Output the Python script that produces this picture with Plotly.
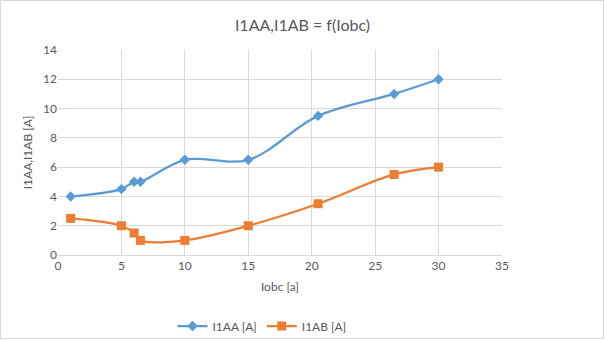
import plotly.graph_objects as go

x_vals = [1, 5, 6, 6.5, 10, 15, 20.5, 26.5, 30]
i1aa = [4, 4.5, 5, 5, 6.5, 6.5, 9.5, 11, 12]
i1ab = [2.5, 2, 1.5, 1, 1, 2, 3.5, 5.5, 6]
x_ticks = [0, 5, 10, 15, 20, 25, 30, 35]
y_ticks = [0, 2, 4, 6, 8, 10, 12, 14]

W, H = 605, 340
L, R, T, B = 58, 103, 50, 85
pw, ph = W - L - R, H - T - B

fig = go.Figure()
fig.add_trace(go.Scatter(x=x_vals, y=i1aa, name="I1AA [A]", mode="lines+markers",
                         line=dict(color="#5B9BD5", width=2.25, shape="spline", smoothing=1),
                         marker=dict(symbol="diamond", size=8, color="#5B9BD5")))
fig.add_trace(go.Scatter(x=x_vals, y=i1ab, name="I1AB [A]", mode="lines+markers",
                         line=dict(color="#ED7D31", width=2.25, shape="spline", smoothing=1),
                         marker=dict(symbol="square", size=9, color="#ED7D31")))

font = "Lato, 'Open Sans', sans-serif"
fig.update_layout(
    width=W, height=H,
    margin=dict(l=L, r=R, t=T, b=B, autoexpand=False),
    paper_bgcolor="white", plot_bgcolor="white",
    font=dict(family=font, color="#595959", size=12),
    title=dict(text="I1AA,I1AB = f(Iobc)", x=0.5, xanchor="center", y=1 - 25 / H, yanchor="middle",
               font=dict(size=16, color="#595959", family=font)),
    xaxis=dict(range=[0, 35], tickvals=x_ticks, showgrid=True, gridcolor="#D9D9D9", gridwidth=1,
               zeroline=False, showline=True, linecolor="#D9D9D9", ticks="", automargin=False,
               title=dict(text="Iobc [a]", font=dict(size=12), standoff=10),
               tickfont=dict(size=12)),
    yaxis=dict(range=[0, 14], tickvals=y_ticks, showgrid=True, gridcolor="#D9D9D9", gridwidth=1,
               zeroline=False, showline=False, ticks="", automargin=False,
               title=dict(text="I1AA,I1AB [A]", font=dict(size=12), standoff=7),
               tickfont=dict(size=12)),
    legend=dict(orientation="h", x=(262 - L) / pw, xanchor="center", yref="container",
                y=1 - 326 / H, yanchor="middle", itemwidth=30,
                font=dict(size=12), bgcolor="rgba(0,0,0,0)"),
    shapes=[dict(type="rect", xref="paper", yref="paper",
                 x0=-(L - 0.5) / pw, x1=1 + (R - 1.5) / pw,
                 y0=-(B - 1.5) / ph, y1=1 + (T - 0.5) / ph,
                 line=dict(color="#D9D9D9", width=1), layer="below")],
)
fig.write_html("out.html")
